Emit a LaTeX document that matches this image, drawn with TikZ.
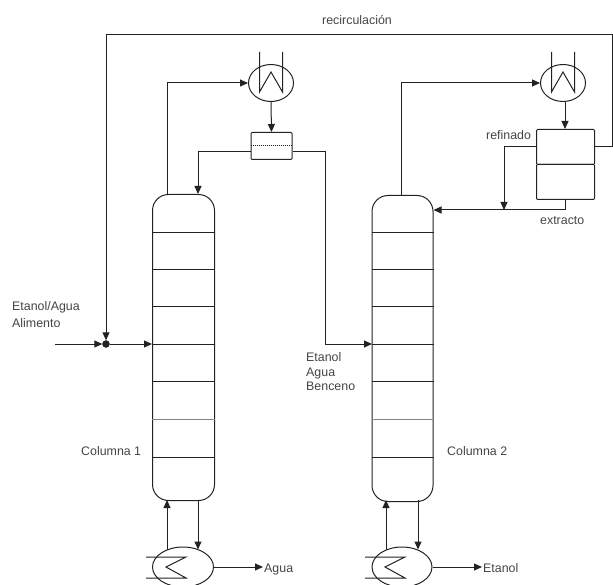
\documentclass[tikz,border=0pt]{standalone}
\usepackage{fontspec}
\setmainfont{Liberation Sans}
\usetikzlibrary{arrows.meta,shapes.geometric}
\definecolor{ink}{HTML}{222222}
\definecolor{lab}{HTML}{444444}
\tikzset{
  column/.style={draw=ink,line width=1pt,rounded corners=16pt,minimum width=62pt,minimum height=306pt,inner sep=0pt,anchor=north west},
  exch/.style={ellipse,draw=ink,line width=1pt,inner sep=0pt},
  box/.style={draw=ink,line width=1pt,rounded corners=1pt,inner sep=0pt,anchor=north west},
  flow/.style={-{Triangle[length=8pt,width=7pt]},draw=ink,line width=1pt},
  pipe/.style={draw=ink,line width=1pt},
  tray/.style={draw=ink,line width=.9pt},
  lbl/.style={font=\fontsize{12.4}{14}\selectfont,text=lab,inner sep=0pt,anchor=base west,align=left}
}
\begin{document}
\begin{tikzpicture}[x=1pt,y=-1pt]
\useasboundingbox (0,0) rectangle (613,585);
\clip (0,0) rectangle (613,585);
% columns
\node[column] (col1) at (152,194) {};
\node[column,minimum width=61pt] (col2) at (371.5,195) {};
\foreach \y in {232,269,306,344,381,457}{
  \draw[tray] (col1.west |- 0,\y) -- (col1.east |- 0,\y);
  \draw[tray] (col2.west |- 0,\y) -- (col2.east |- 0,\y);
}
\draw[tray,draw=ink!55,line width=.8pt] (col1.west |- 0,419) -- (col1.east |- 0,419);
\draw[tray,draw=ink!55,line width=.8pt] (col2.west |- 0,419) -- (col2.east |- 0,419);
% condensers
\node[exch,minimum width=45pt,minimum height=37pt] (cond1) at (271,83) {};
\node[exch,minimum width=45pt,minimum height=37pt] (cond2) at (563,83) {};
\draw[pipe] (259.5,52) -- (259.5,92) -- (271,72) -- (282.5,92) -- (282.5,52);
\draw[pipe] (551.5,52) -- (551.5,92) -- (563,72) -- (574.5,92) -- (574.5,52);
% decanter 1
\node[box,minimum width=41pt,minimum height=27pt] (dec1) at (250.5,132) {};
\draw[pipe,densely dotted] (dec1.west |- 0,146) -- (dec1.east |- 0,146);
% decanter 2
\node[box,minimum width=58pt,minimum height=35pt] (raf) at (536,129) {};
\node[box,minimum width=58pt,minimum height=35pt] (ext) at (536,164) {};
% reboilers
\node[exch,minimum width=61pt,minimum height=40pt] (reb1) at (183,567) {};
\node[exch,minimum width=60pt,minimum height=40pt] (reb2) at (402,567) {};
\draw[pipe] (146,557) -- (186,557) -- (166,567) -- (186,578) -- (146,578);
\draw[pipe] (365,557) -- (405,557) -- (385,567) -- (405,578) -- (365,578);
% junction
\node[circle,fill=ink,draw=ink,minimum size=7pt,inner sep=0pt] (mix) at (106,344) {};
% free-end coordinates
\coordinate (feed) at (55,344);
\coordinate (a1) at (167,83);
\coordinate (a2) at (198,152);
\coordinate (a3) at (325,344);
\coordinate (a4) at (325,152);
\coordinate (a5) at (372,344);
\coordinate (b1) at (401,83);
\coordinate (b2) at (504,147);
\coordinate (b3) at (565,210);
\coordinate (b4) at (565,102);
\coordinate (b5) at (565,129);
\coordinate (r1) at (612,147);
\coordinate (r2) at (612,35);
\coordinate (r3) at (106,35);
\coordinate (agua) at (263,567);
\coordinate (etanol) at (482,567);
\coordinate (d1) at (167,500);
\coordinate (d2) at (198,500);
\coordinate (e1) at (386,500);
\coordinate (e2) at (418,500);
% connectors column 1
\draw[flow] (feed) -- (mix);
\draw[flow] (mix) -- (col1.west |- mix);
\draw[flow] (col1.north -| a1) -- (a1) -- (cond1.west);
\draw[flow] (cond1.south) -- (dec1.north);
\draw[flow] (dec1.west |- a2) -- (a2) -- (a2 |- col1.north);
\draw[flow] (dec1.east |- a4) -- (a4) -- (a3) -- (a5);
% connectors column 2
\draw[flow] (col2.north -| b1) -- (b1) -- (cond2.west);
\draw[flow] (b4) -- (b5);
\draw[flow] (raf.west |- b2) -- (b2) -- (b2 |- b3);
\draw[flow] (ext.south -| b3) -- (b3) -- (col2.east |- b3);
\draw[flow] (raf.east |- r1) -- (r1) -- (r2) -- (r3) -- (mix);
% reboiler connectors
\draw[flow] ([yshift=-3pt]reb1.north -| d1) -- (d1);
\draw[flow] (d2) -- ([yshift=-3pt]reb1.north -| d2);
\draw[flow] ([yshift=-3pt]reb2.north -| e1) -- (e1);
\draw[flow] (e2) -- ([yshift=-3pt]reb2.north -| e2);
\draw[flow] (reb1.east) -- (agua);
\draw[flow] (reb2.east) -- (etanol);
% labels
\node[lbl] (t1) at (322,25) {recirculación};
\node[lbl] (t2) at (12,311) {Etanol/Agua};
\node[lbl] (t3) at (12,327) {Alimento};
\node[lbl] (t4) at (306,361) {Etanol};
\node[lbl] (t5) at (306,376) {Agua};
\node[lbl] (t6) at (306,390) {Benceno};
\node[lbl] (t7) at (81,455) {Columna 1};
\node[lbl] (t8) at (447,455) {Columna 2};
\node[lbl] (t9) at (486,140) {refinado};
\node[lbl] (t10) at (540,225) {extracto};
\node[lbl] (t11) at (264,572) {Agua};
\node[lbl] (t12) at (483,572) {Etanol};
\end{tikzpicture}
\end{document}
